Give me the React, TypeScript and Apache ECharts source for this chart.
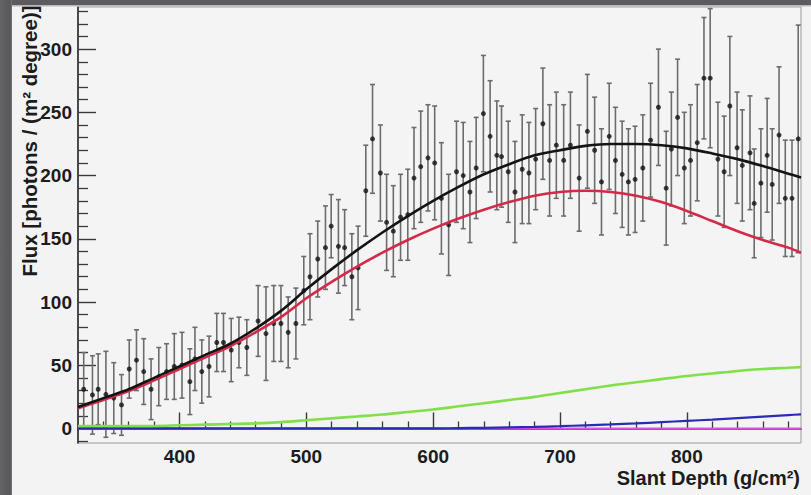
import { useEffect, useRef } from "react";
import * as echarts from "echarts";

// Measured profile: slant depth (g/cm²), flux and its 1σ error
const depth = [
  324.5, 331.4, 335.9, 342.0, 348.2, 354.3, 360.4, 366.1, 371.8, 377.6,
  383.7, 389.8, 395.9, 402.0, 408.2, 412.2, 417.6, 423.3, 429.4, 434.7,
  440.8, 446.9, 453.1, 462.0, 468.2, 474.3, 480.0, 485.7, 491.8, 498.0,
  502.9, 509.0, 515.1, 519.6, 525.3, 530.2, 535.9, 540.8, 546.9, 552.2,
  558.4, 563.3, 568.6, 574.3, 580.0, 584.9, 590.2, 595.9, 601.2, 606.5,
  612.2, 618.4, 623.7, 629.0, 633.9, 639.6, 644.9, 650.2, 653.9, 659.2,
  664.5, 670.2, 675.5, 680.8, 686.5, 691.8, 697.1, 702.9, 708.2, 715.1,
  721.6, 727.3, 732.7, 738.8, 743.7, 749.0, 753.9, 759.2, 765.3, 771.4,
  777.6, 783.7, 787.8, 792.7, 798.0, 802.9, 808.2, 813.5, 818.4, 824.5,
  829.4, 833.9, 839.6, 843.7, 849.8, 853.1, 858.4, 863.3, 867.3, 872.7,
  877.6, 882.9, 887.8,
];
const flux = [
  31, 26.5, 31, 27, 24, 18.6, 47, 54, 45, 31,
  41, 45, 49, 50, 37, 55, 45, 49, 68, 68,
  62, 68, 64, 85, 75, 83, 83, 76, 83, 109,
  120, 134, 143, 160, 144, 143, 120, 127, 188, 229,
  202, 163, 156, 167, 169, 198, 207, 214, 210, 182,
  161, 203, 200, 187, 206, 249, 231, 216, 215, 203,
  187, 205, 202, 213, 241, 212, 224, 212, 224, 198,
  235, 220, 195, 231, 212, 201, 195, 197, 206, 228,
  254, 190, 221, 246, 206, 212, 226, 277, 277, 213,
  203, 255, 222, 208, 218, 178, 194, 216, 193, 232,
  182, 182, 229,
];
const fluxErr = [
  29, 31, 28, 34, 28, 24, 23, 24, 26, 24,
  23, 22, 26, 26, 26, 25, 25, 24, 23, 23,
  25, 20, 22, 28, 37, 30, 30, 28, 28, 27,
  34, 30, 33, 25, 37, 30, 34, 33, 36, 43,
  38, 38, 36, 34, 36, 40, 44, 42, 45, 44,
  40, 40, 42, 40, 40, 46, 44, 43, 40, 40,
  40, 43, 40, 40, 44, 44, 42, 44, 42, 42,
  45, 42, 42, 42, 42, 42, 42, 42, 42, 45,
  46, 45, 45, 46, 44, 44, 46, 48, 55, 45,
  44, 55, 44, 44, 45, 43, 43, 45, 44, 54,
  46, 46, 90,
];

// Fitted light components, sampled along slant depth
const curveDepth = [
  320, 340, 360, 380, 400, 420, 440, 460, 480, 500, 520, 540, 560, 580, 600,
  620, 640, 660, 680, 700, 720, 740, 760, 780, 800, 820, 840, 860, 880, 890,
];
const totalLight = [
  17, 24, 31, 40, 49, 58, 67, 79, 93, 110, 126, 141, 155, 168, 180,
  191, 201, 209, 216, 220, 223.5, 225, 225, 224, 221.5, 217.5, 213, 207.5, 201.5, 198.5,
];
const fluorescence = [
  16, 22.5, 29.5, 38, 47, 56, 65, 76, 88, 103, 116, 128, 139, 149, 158,
  166, 173, 179, 184, 187, 188, 187, 184, 179, 172, 164, 156, 149, 143, 139,
];
const directCherenkov = [
  2, 2, 2, 2, 2.5, 3, 3.5, 4, 5, 6.5, 8, 9.5, 11, 13, 15,
  17.5, 20, 22.5, 25, 28, 31, 34, 36.5, 39, 41.5, 43.5, 45.5, 47, 48, 48.5,
];
const rayleighCherenkov = [
  0, 0, 0, 0, 0, 0, 0, 0, 0, 0, 0, 0, 0, 0, 0,
  0.3, 0.5, 0.8, 1.2, 1.8, 2.5, 3.2, 4, 5, 6, 7, 8.2, 9.4, 10.6, 11.2,
];
const mieCherenkov = [
  0, 0, 0, 0, 0, 0, 0, 0, 0, 0, 0, 0, 0, 0, 0,
  0, 0, 0, 0, 0, 0, 0, 0, 0, 0, 0, 0, 0, 0, 0,
];

// Axis ticks
const xMajorTicks = [400, 500, 600, 700, 800];
const xMinorTicks = [
  340, 360, 380, 420, 440, 460, 480, 520, 540, 560, 580, 620, 640, 660, 680,
  720, 740, 760, 780, 820, 840, 860, 880,
];
const yMajorTicks = [0, 50, 100, 150, 200, 250, 300];
const yMinorTicks = [
  -10, 10, 20, 30, 40, 60, 70, 80, 90, 110, 120, 130, 140, 160, 170, 180, 190,
  210, 220, 230, 240, 260, 270, 280, 290, 310, 320, 330,
];

const FONT = '"Liberation Sans", Arial, sans-serif';
const INK = "#1c1c1c";

function pairs(xs: number[], ys: number[]) {
  return xs.map((x, i) => [x, ys[i]]);
}

export default function App() {
  const ref = useRef<HTMLDivElement>(null);

  useEffect(() => {
    if (!ref.current) return;
    const chart = echarts.init(ref.current, undefined, { renderer: "svg" });

    const xBase = { type: "value", min: 320, max: 890, gridIndex: 0, position: "bottom", splitLine: { show: false } };
    const yBase = { type: "value", min: -11.5, max: 333.3, gridIndex: 0, position: "left", splitLine: { show: false } };

    const curve = (name: string, ys: number[], color: string, width: number, z: number) => ({
      name,
      type: "line",
      data: pairs(curveDepth, ys),
      smooth: 0.3,
      showSymbol: false,
      symbol: "none",
      clip: true,
      lineStyle: { color, width },
      z,
    });

    chart.setOption({
      animation: false,
      backgroundColor: "#f3f3f3",
      grid: {
        left: 78,
        top: 7,
        right: 10,
        bottom: 52,
        show: true,
        backgroundColor: "#f4f4f4",
        borderColor: "#9c9c9c",
        borderWidth: 1,
      },
      xAxis: [
        {
          ...xBase,
          axisLine: { show: true, lineStyle: { color: "#2a2a2a", width: 1.6 } },
          axisTick: { show: true, inside: true, length: 16, customValues: xMajorTicks, lineStyle: { color: "#3a3a3a", width: 1.4 } },
          axisLabel: {
            show: true,
            customValues: xMajorTicks,
            margin: 4,
            fontSize: 19,
            fontWeight: "bold",
            fontFamily: FONT,
            color: INK,
          },
        },
        {
          ...xBase,
          axisLine: { show: false },
          axisTick: { show: true, inside: true, length: 7, customValues: xMinorTicks, lineStyle: { color: "#3a3a3a", width: 1.3 } },
          axisLabel: { show: false },
        },
      ],
      yAxis: [
        {
          ...yBase,
          axisLine: { show: true, lineStyle: { color: "#2a2a2a", width: 1.6 } },
          axisTick: { show: true, inside: true, length: 18, customValues: yMajorTicks, lineStyle: { color: "#3a3a3a", width: 1.4 } },
          axisLabel: {
            show: true,
            customValues: yMajorTicks,
            margin: 6,
            fontSize: 19,
            fontWeight: "bold",
            fontFamily: FONT,
            color: INK,
          },
        },
        {
          ...yBase,
          axisLine: { show: false },
          axisTick: { show: true, inside: true, length: 10, customValues: yMinorTicks, lineStyle: { color: "#3a3a3a", width: 1.3 } },
          axisLabel: { show: false },
        },
      ],
      graphic: [
        { type: "rect", left: 0, top: 0, shape: { width: 811, height: 5 }, style: { fill: "#5c5c60" }, z: 10 },
        { type: "rect", left: 0, top: 5, shape: { width: 811, height: 1.5 }, style: { fill: "#b8b8b8" }, z: 10 },
        {
          type: "rect",
          left: 0,
          top: 0,
          shape: { width: 12, height: 495 },
          style: {
            fill: new echarts.graphic.LinearGradient(0, 0, 1, 0, [
              { offset: 0, color: "#646468" },
              { offset: 0.85, color: "#58585c" },
              { offset: 1, color: "#77777a" },
            ]),
          },
          z: 10,
        },
        {
          type: "text",
          x: 29,
          y: 141,
          rotation: Math.PI / 2,
          style: {
            text: "Flux [photons / (m² degree)]",
            fontSize: 20.5,
            fontWeight: "bold",
            fontFamily: FONT,
            fill: INK,
            align: "center",
            verticalAlign: "middle",
          },
          z: 5,
        },
        {
          type: "text",
          x: 800,
          y: 478,
          style: {
            text: "Slant Depth (g/cm²)",
            fontSize: 20,
            fontWeight: "bold",
            fontFamily: FONT,
            fill: INK,
            align: "right",
            verticalAlign: "middle",
          },
          z: 5,
        },
      ],
      series: [
        {
          name: "errors",
          type: "custom",
          xAxisIndex: 0,
          yAxisIndex: 0,
          clip: true,
          encode: { x: 0, y: [1, 2] },
          data: depth.map((d, i) => [d, flux[i] - fluxErr[i], flux[i] + fluxErr[i]]),
          renderItem: (_params: any, api: any) => {
            const x = api.value(0);
            const lo = api.coord([x, api.value(1)]);
            const hi = api.coord([x, api.value(2)]);
            const cap = 2.5;
            const style = { stroke: "#6c6c6c", lineWidth: 1.6 };
            return {
              type: "group",
              children: [
                { type: "line", shape: { x1: lo[0], y1: lo[1], x2: hi[0], y2: hi[1] }, style },
                { type: "line", shape: { x1: hi[0] - cap, y1: hi[1], x2: hi[0] + cap, y2: hi[1] }, style },
                { type: "line", shape: { x1: lo[0] - cap, y1: lo[1], x2: lo[0] + cap, y2: lo[1] }, style },
              ],
            };
          },
          z: 2,
        },
        {
          name: "data",
          type: "scatter",
          xAxisIndex: 0,
          yAxisIndex: 0,
          data: pairs(depth, flux),
          symbol: "circle",
          symbolSize: 5,
          itemStyle: { color: "#111111" },
          z: 3,
        },
        curve("Mie Cherenkov", mieCherenkov, "#e04ee6", 2, 4),
        curve("Rayleigh Cherenkov", rayleighCherenkov, "#2b2bb8", 2.2, 5),
        curve("Direct Cherenkov", directCherenkov, "#80e04a", 2.6, 6),
        curve("Fluorescence", fluorescence, "#d42a48", 2.6, 7),
        curve("Total", totalLight, "#141414", 2.6, 8),
      ],
    });

    return () => chart.dispose();
  }, []);

  return (
    <div
      ref={ref}
      style={{ position: "absolute", left: 0, top: 0, width: 811, height: 495 }}
    />
  );
}
